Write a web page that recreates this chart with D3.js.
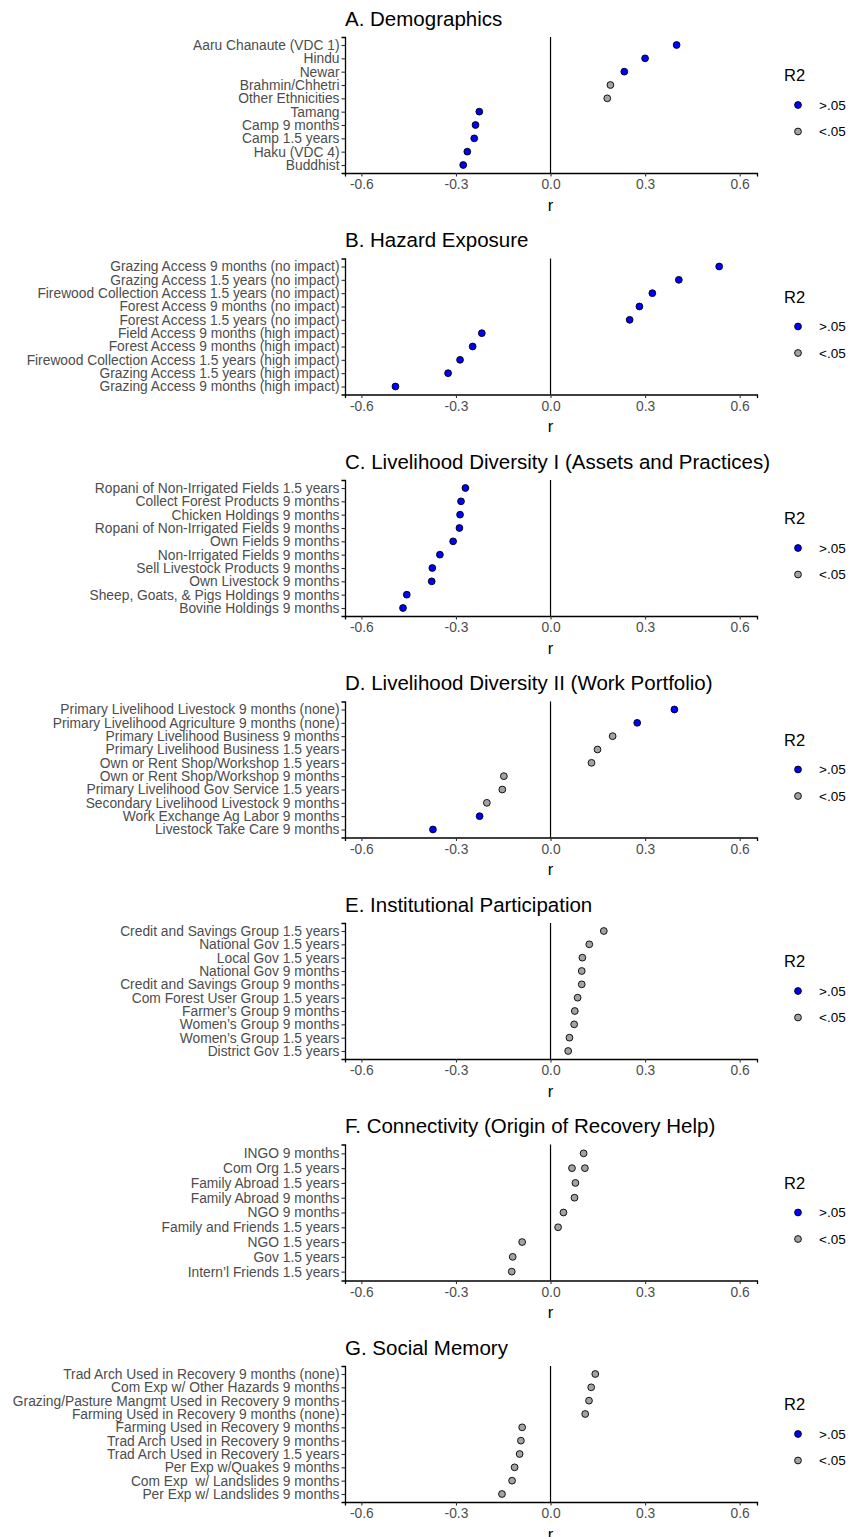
<!DOCTYPE html>
<html>
<head>
<meta charset="utf-8">
<script src="https://cdn.jsdelivr.net/npm/d3@7"></script>
<style>
  body { margin: 0; background: #fff; }
  svg { display: block; }
  svg text { white-space: pre; }
</style>
</head>
<body>
<div id="chart"></div>
<script>
// Panel titles
const titles = [
  "A. Demographics",
  "B. Hazard Exposure",
  "C. Livelihood Diversity I (Assets and Practices)",
  "D. Livelihood Diversity II (Work Portfolio)",
  "E. Institutional Participation",
  "F. Connectivity (Origin of Recovery Help)",
  "G. Social Memory"
]

const labelsA = ["Aaru Chanaute (VDC 1)", "Hindu", "Newar", "Brahmin/Chhetri", "Other Ethnicities",
  "Tamang", "Camp 9 months", "Camp 1.5 years", "Haku (VDC 4)", "Buddhist"]
const rA = [0.40, 0.30, 0.234, 0.19, 0.18, -0.226, -0.238, -0.242, -0.264, -0.277]
const sigA = [">.05", ">.05", ">.05", "<.05", "<.05", ">.05", ">.05", ">.05", ">.05", ">.05"]

const labelsB = ["Grazing Access 9 months (no impact)", "Grazing Access 1.5 years (no impact)",
  "Firewood Collection Access 1.5 years (no impact)", "Forest Access 9 months (no impact)",
  "Forest Access 1.5 years (no impact)", "Field Access 9 months (high impact)",
  "Forest Access 9 months (high impact)", "Firewood Collection Access 1.5 years (high impact)",
  "Grazing Access 1.5 years (high impact)", "Grazing Access 9 months (high impact)"]
const rB = [0.535, 0.407, 0.323, 0.282, 0.251, -0.218, -0.247, -0.287, -0.325, -0.492]
const sigB = [">.05", ">.05", ">.05", ">.05", ">.05", ">.05", ">.05", ">.05", ">.05", ">.05"]

const labelsC = ["Ropani of Non-Irrigated Fields 1.5 years", "Collect Forest Products 9 months",
  "Chicken Holdings 9 months", "Ropani of Non-Irrigated Fields 9 months", "Own Fields 9 months",
  "Non-Irrigated Fields 9 months", "Sell Livestock Products 9 months", "Own Livestock 9 months",
  "Sheep, Goats, & Pigs Holdings 9 months", "Bovine Holdings 9 months"]
const rC = [-0.27, -0.284, -0.287, -0.289, -0.309, -0.351, -0.375, -0.377, -0.456, -0.468]
const sigC = [">.05", ">.05", ">.05", ">.05", ">.05", ">.05", ">.05", ">.05", ">.05", ">.05"]

const labelsD = ["Primary Livelihood Livestock 9 months (none)", "Primary Livelihood Agriculture 9 months (none)",
  "Primary Livelihood Business 9 months", "Primary Livelihood Business 1.5 years",
  "Own or Rent Shop/Workshop 1.5 years", "Own or Rent Shop/Workshop 9 months",
  "Primary Livelihood Gov Service 1.5 years", "Secondary Livelihood Livestock 9 months",
  "Work Exchange Ag Labor 9 months", "Livestock Take Care 9 months"]
const rD = [0.393, 0.275, 0.197, 0.149, 0.13, -0.148, -0.153, -0.202, -0.225, -0.373]
const sigD = [">.05", ">.05", "<.05", "<.05", "<.05", "<.05", "<.05", "<.05", ">.05", ">.05"]

const labelsE = ["Credit and Savings Group 1.5 years", "National Gov 1.5 years", "Local Gov 1.5 years",
  "National Gov 9 months", "Credit and Savings Group 9 months", "Com Forest User Group 1.5 years",
  "Farmer\u2019s Group 9 months", "Women\u2019s Group 9 months", "Women\u2019s Group 1.5 years",
  "District Gov 1.5 years"]
const rE = [0.169, 0.123, 0.101, 0.099, 0.099, 0.086, 0.077, 0.075, 0.06, 0.056]
const sigE = ["<.05", "<.05", "<.05", "<.05", "<.05", "<.05", "<.05", "<.05", "<.05", "<.05"]

// "Com Org 1.5 years" shows up twice in the source chart
const labelsF = ["INGO 9 months", "Com Org 1.5 years", "Com Org 1.5 years", "Family Abroad 1.5 years",
  "Family Abroad 9 months", "NGO 9 months", "Family and Friends 1.5 years", "NGO 1.5 years",
  "Gov 1.5 years", "Intern\u2019l Friends 1.5 years"]
const rF = [0.105, 0.068, 0.109, 0.079, 0.076, 0.041, 0.024, -0.09, -0.12, -0.123]
const sigF = ["<.05", "<.05", "<.05", "<.05", "<.05", "<.05", "<.05", "<.05", "<.05", "<.05"]

const labelsG = ["Trad Arch Used in Recovery 9 months (none)", "Com Exp w/ Other Hazards 9 months",
  "Grazing/Pasture Mangmt Used in Recovery 9 months", "Farming Used in Recovery 9 months (none)",
  "Farming Used in Recovery 9 months", "Trad Arch Used in Recovery 9 months",
  "Trad Arch Used in Recovery 1.5 years", "Per Exp w/Quakes 9 months",
  "Com Exp  w/ Landslides 9 months", "Per Exp w/ Landslides 9 months"]
const rG = [0.142, 0.129, 0.122, 0.11, -0.09, -0.094, -0.098, -0.114, -0.122, -0.154]
const sigG = ["<.05", "<.05", "<.05", "<.05", "<.05", "<.05", "<.05", "<.05", "<.05", "<.05"]

const xTicks = [-0.6, -0.3, 0.0, 0.3, 0.6]
const legendKeys = [">.05", "<.05"]

const panelData = [
  [labelsA, rA, sigA], [labelsB, rB, sigB], [labelsC, rC, sigC], [labelsD, rD, sigD],
  [labelsE, rE, sigE], [labelsF, rF, sigF], [labelsG, rG, sigG]
]

const width = 849
const height = 1537
const font = "'Liberation Sans', Arial, Helvetica, sans-serif"
const plot = { left: 345, right: 757, top: 37, height: 136, step: 221.5 }

const fill = d3.scaleOrdinal().domain(legendKeys).range(["#0000FF", "#A3A3A3"])

const x = d3.scaleLinear()
  .domain([-0.652, 0.655])
  .range([plot.left, plot.right])

const svg = d3.select("#chart").append("svg")
  .attr("width", width)
  .attr("height", height)
  .style("background", "#fff")

panelData.forEach(function (pd, i) {
  const [labels, values, sig] = pd
  const top = plot.top + i * plot.step
  const bottom = top + plot.height
  const rows = labels.map((l, j) => ({ label: l, r: values[j], sig: sig[j] }))

  const y = d3.scalePoint()
    .domain(Array.from(new Set(labels)))
    .range([top, bottom])
    .padding(0.6)

  const g = svg.append("g")

  // title
  g.append("text")
    .attr("x", plot.left)
    .attr("y", top - 11.5)
    .attr("font-family", font)
    .attr("font-size", 20.5)
    .attr("fill", "#000")
    .text(titles[i])

  // zero line
  g.append("line")
    .attr("x1", x(0)).attr("x2", x(0))
    .attr("y1", top).attr("y2", bottom)
    .attr("stroke", "#000")
    .attr("stroke-width", 1.2)

  // axes
  const xAxis = g.append("g")
    .attr("transform", "translate(0," + bottom + ")")
    .call(d3.axisBottom(x).tickValues(xTicks).tickFormat(d => d.toFixed(1)).tickSizeOuter(0).tickSize(3.5).tickPadding(3))
  const yAxis = g.append("g")
    .attr("transform", "translate(" + plot.left + ",0)")
    .call(d3.axisLeft(y).tickSizeOuter(0).tickSize(3.5).tickPadding(2))
  for (const ax of [xAxis, yAxis]) {
    ax.select(".domain").attr("stroke", "#000").attr("stroke-width", 1.3)
    ax.selectAll(".tick line").attr("stroke", "#333").attr("stroke-width", 1.1)
    ax.selectAll(".tick text")
      .attr("font-family", font)
      .attr("font-size", 13.8)
      .attr("fill", "#4D4D4D")
  }

  g.append("text")
    .attr("x", x(0))
    .attr("y", bottom + 37.5)
    .attr("text-anchor", "middle")
    .attr("font-family", font)
    .attr("font-size", 16.5)
    .attr("fill", "#000")
    .text("r")

  // points
  g.append("g")
    .selectAll("circle")
    .data(rows)
    .join("circle")
    .attr("cx", d => x(d.r))
    .attr("cy", d => y(d.label))
    .attr("r", 3.4)
    .attr("fill", d => fill(d.sig))
    .attr("stroke", "#000")
    .attr("stroke-width", 0.9)

  // legend
  const lg = g.append("g")
  lg.append("text")
    .attr("x", 784)
    .attr("y", top + 44)
    .attr("font-family", font)
    .attr("font-size", 16.5)
    .attr("fill", "#000")
    .text("R2")
  legendKeys.forEach(function (k, j) {
    const ky = top + 68 + j * 26.5
    lg.append("circle")
      .attr("cx", 798).attr("cy", ky).attr("r", 3.4)
      .attr("fill", fill(k))
      .attr("stroke", "#000")
      .attr("stroke-width", 0.9)
    lg.append("text")
      .attr("x", 819)
      .attr("y", ky + 4.6)
      .attr("font-family", font)
      .attr("font-size", 13.5)
      .attr("fill", "#000")
      .text(k)
  })
})
</script>
</body>
</html>
